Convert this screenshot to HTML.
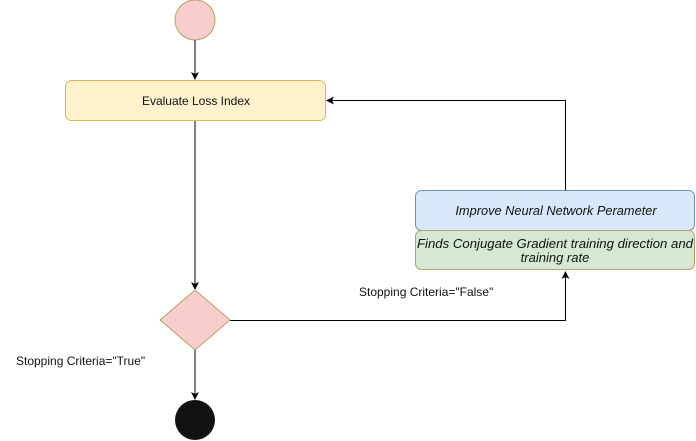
<!DOCTYPE html>
<html><head><style>body{margin:0;background:#fff}svg{display:block}text{font-family:"Liberation Sans",sans-serif;font-size:12px;fill:#111}</style></head><body>
<svg width="696" height="441" viewBox="0 0 696 441">
<defs><marker id="a" markerWidth="8" markerHeight="8" refX="7" refY="4" orient="auto" markerUnits="userSpaceOnUse"><path d="M0,0 L8,4 L0,8 L2,4 Z" fill="#000"/></marker></defs>
<circle cx="195" cy="20" r="20" fill="#f8cecc" stroke="#b5a06a"/>
<line x1="195" y1="40" x2="195" y2="79" stroke="#000" marker-end="url(#a)"/>
<rect x="65.5" y="80.5" width="260" height="40" rx="6" fill="#fff2cc" stroke="#d6b656"/>
<text x="196" y="105" text-anchor="middle">Evaluate Loss Index</text>
<line x1="195" y1="121" x2="195" y2="289" stroke="#000" marker-end="url(#a)"/>
<polygon points="195,290 230,320 195,350 160,320" fill="#f8cecc" stroke="#b5a06a"/>
<line x1="195" y1="350" x2="195" y2="399" stroke="#000" marker-end="url(#a)"/>
<circle cx="195" cy="420" r="20" fill="#111"/>
<text x="16" y="365">Stopping Criteria="True"</text>
<polyline points="230,320.5 565.5,320.5 565.5,272" fill="none" stroke="#000" marker-end="url(#a)"/>
<text x="359" y="296">Stopping Criteria="False"</text>
<rect x="415.5" y="190.5" width="279" height="40" rx="6" fill="#dae8fc" stroke="#6c8ebf"/>
<text x="556" y="215" text-anchor="middle" style="font-style:italic;font-size:12.8px">Improve Neural Network Perameter</text>
<rect x="415.5" y="230.5" width="279" height="39" rx="6" fill="#d5e8d4" stroke="#b5a06a"/>
<text x="555" y="248" text-anchor="middle" style="font-style:italic;font-size:13px" textLength="276" lengthAdjust="spacingAndGlyphs">Finds Conjugate Gradient training direction and</text>
<text x="555" y="262" text-anchor="middle" style="font-style:italic;font-size:13px">training rate</text>
<polyline points="565.5,190 565.5,100.5 327,100.5" fill="none" stroke="#000" marker-end="url(#a)"/>
</svg>
</body></html>
